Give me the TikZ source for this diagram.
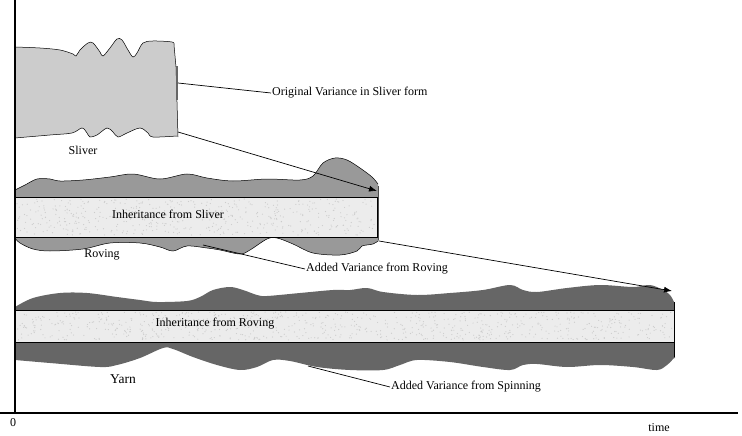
\documentclass[tikz,border=0pt]{standalone}
\usepackage{fontspec}
\setmainfont{Liberation Serif}
\usetikzlibrary{arrows.meta}
\definecolor{sliverc}{HTML}{CCCCCC}
\definecolor{rovingc}{HTML}{999999}
\definecolor{yarnc}{HTML}{666666}
\definecolor{inhc}{HTML}{ECECEC}
\begin{document}
\begin{tikzpicture}[x=1pt,y=-1pt,
  lab/.style={inner sep=1pt,font=\fontsize{12}{14}\selectfont},
  conn/.style={line width=0.7pt,black},
  tip/.style={-{Latex[length=8pt,width=6pt]}},
  edge/.style={draw=black,line width=0.5pt},
  inh/.style={draw=black,line width=0.8pt,fill=inhc},
  speck/.style={fill=gray!40}]
\useasboundingbox (0,0) rectangle (742,436);
\pgfmathsetseed{7}

% Sliver
\fill[sliverc] plot[smooth,tension=0.55] coordinates {(15,47) (40,48) (60,50) (73,54) (76,56) (80,50) (88,43) (93,43) (100,52) (103,56) (110,48) (117,39) (122,40) (128,50) (133,57) (137,53) (143,43) (153,41) (172,42) (174,45)}
  -- (176,67) -- (178,137)
  -- plot[smooth,tension=0.55] coordinates {(177,136) (153,137) (148,133) (140,128) (127,133) (118,137) (113,132) (107,128) (97,135) (90,137) (87,133) (82,128) (72,133) (50,135) (15,138)} -- cycle;
\draw[edge] plot[smooth,tension=0.55] coordinates {(15,47) (40,48) (60,50) (73,54) (76,56) (80,50) (88,43) (93,43) (100,52) (103,56) (110,48) (117,39) (122,40) (128,50) (133,57) (137,53) (143,43) (153,41) (172,42) (174,45)} -- (176,67) -- (178,137);
\draw[edge] plot[smooth,tension=0.55] coordinates {(177,136) (153,137) (148,133) (140,128) (127,133) (118,137) (113,132) (107,128) (97,135) (90,137) (87,133) (82,128) (72,133) (50,135) (15,138)};
\fill[black!60] (176,66) rectangle (178,100);

% Roving
\fill[rovingc] plot[smooth,tension=0.55] coordinates {(15,190) (25,185) (37,179) (50,179) (60,181) (83,180) (110,177) (133,174) (160,179) (187,174) (207,178) (233,181) (267,179) (300,180) (313,176) (323,163) (335,158) (347,160) (360,168) (372,177) (378,184)}
  -- (379,241)
  -- plot[smooth,tension=0.55] coordinates {(378,241) (373,244) (362,246) (357,251) (340,255) (313,253) (293,244) (277,238) (267,239) (250,250) (240,254) (220,250) (207,248) (187,246) (173,251) (160,247) (140,243) (110,243) (83,249) (50,251) (33,249) (20,243) (15,238)} -- cycle;
\draw[edge] plot[smooth,tension=0.55] coordinates {(15,190) (25,185) (37,179) (50,179) (60,181) (83,180) (110,177) (133,174) (160,179) (187,174) (207,178) (233,181) (267,179) (300,180) (313,176) (323,163) (335,158) (347,160) (360,168) (372,177) (378,184)};
\draw[edge] plot[smooth,tension=0.55] coordinates {(378,241) (373,244) (362,246) (357,251) (340,255) (313,253) (293,244) (277,238) (267,239) (250,250) (240,254) (220,250) (207,248) (187,246) (173,251) (160,247) (140,243) (110,243) (83,249) (50,251) (33,249) (20,243) (15,238)};
\draw[black!70,line width=1pt] (378.5,186) -- (378.5,240);
\node[inh,minimum width=362pt,minimum height=40pt,inner sep=0pt,anchor=north west] (inhs) at (15,197) {};
\foreach \i in {1,...,500} {\fill[speck] ({17+358*rnd},{199+36*rnd}) circle (0.6pt);}
\node[lab] (tinhs) at (168,214) {Inheritance from Sliver};

% Yarn
\fill[yarnc] plot[smooth,tension=0.55] coordinates {(15,307) (33,298) (60,293) (87,293) (117,297) (140,300) (157,302) (187,301) (200,297) (213,290) (230,287) (243,290) (257,295) (267,296) (300,293) (333,290) (350,290) (367,288) (383,292) (417,295) (450,293) (483,290) (510,285) (523,290) (537,292) (567,288) (600,285) (633,287) (650,285) (663,290) (670,295) (674,302)}
  -- (675,358)
  -- plot[smooth,tension=0.55] coordinates {(674,358) (667,365) (657,370) (633,367) (600,365) (567,367) (537,364) (523,365) (510,370) (483,367) (450,362) (417,360) (400,365) (383,370) (350,370) (317,367) (290,361) (273,360) (257,367) (240,370) (217,365) (193,357) (173,349) (163,348) (140,358) (117,365) (100,367) (50,363) (15,360)} -- cycle;
\draw[black,line width=1pt] (674.5,302) -- (674.5,357);
\node[inh,minimum width=659pt,minimum height=32pt,inner sep=0pt,anchor=north west] (inhr) at (15,310) {};
\foreach \i in {1,...,800} {\fill[speck] ({17+655*rnd},{312+28*rnd}) circle (0.6pt);}
\node[lab] (tinhr) at (215,324) {Inheritance from Roving};

% Axes
\coordinate (ytop) at (15,0);
\coordinate (orig0) at (15,413);
\coordinate (xleft) at (0,413);
\coordinate (xright) at (738,413);
\draw[line width=2pt] (ytop) -- (orig0);
\draw[line width=1.2pt] (xleft) -- (xright);
\node[lab] (zero) at (13,423) {0};
\node[lab] (time) at (659,428) {time};

% Labels
\node[lab] (lsliver) at (83,150) {Sliver};
\node[lab] (lroving) at (102,255) {Roving};
\node[inner sep=1pt,font=\fontsize{13.5}{15}\selectfont] (lyarn) at (123,379) {Yarn};
\node[lab,anchor=west] (orig) at (271,93) {Original Variance in Sliver form};
\node[lab,anchor=west] (addr) at (305,269) {Added Variance from Roving};
\node[lab,anchor=west] (adds) at (390,387) {Added Variance from Spinning};

% Connectors
\coordinate (s1) at (178,83);
\coordinate (s2) at (178,132);
\coordinate (r1) at (377,191);
\coordinate (r2) at (203,245);
\coordinate (r3) at (379,241);
\coordinate (y1) at (672,291);
\coordinate (y2) at (308,366);
\draw[conn] (s1) -- (orig.west);
\draw[conn,tip] (s2) -- (r1);
\draw[conn] (r2) -- (addr.west);
\draw[conn,tip] (r3) -- (y1);
\draw[conn] (y2) -- (adds.west);
\end{tikzpicture}
\end{document}
